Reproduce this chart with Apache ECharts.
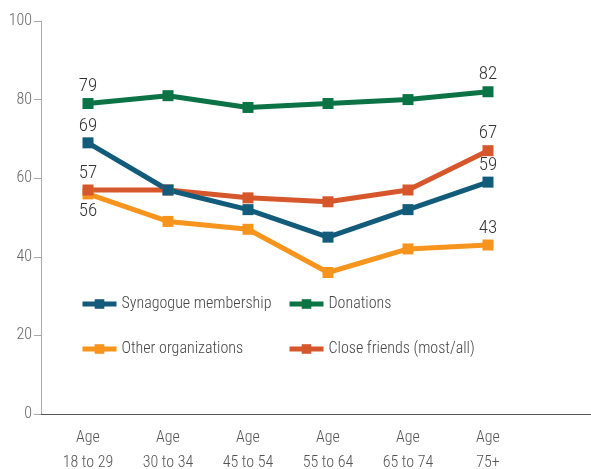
<!DOCTYPE html>
<html>
<head>
<meta charset="utf-8">
<script src="https://cdn.jsdelivr.net/npm/echarts@6/dist/echarts.min.js"></script>
<style>
	html, body { margin: 0; padding: 0; background: #fff; }
	#chart1 { width: 591px; height: 469px; }
</style>
</head>
<body>
<div id="chart1"></div>
<script>
var categories = ['18 to 29', '30 to 34', '45 to 54', '55 to 64', '65 to 74', '75+'];
var seriesNames = ['Synagogue membership', 'Donations', 'Other organizations', 'Close friends (most/all)'];
var synagogue = [69, 57, 52, 45, 52, 59];
var donations = [79, 81, 78, 79, 80, 82];
var otherOrgs = [56, 49, 47, 36, 42, 43];
var closeFriends = [57, 57, 55, 54, 57, 67];
var yTicks = [0, 20, 40, 60, 80, 100];

var FONT = "'Roboto Condensed', 'DejaVu Sans Condensed', sans-serif";

function pairs(arr){
	return arr.map(function(v, i){ return [i, v]; });
}

// only first and last point get a value label
function makeSeries(name, values, color, firstPos){
	var last = values.length - 1;
	return {
		name: name,
		type: 'line',
		data: pairs(values).map(function(d, i){
			var item = { value: d };
			if (i === 0 || i === last) {
				item.label = { show: true, position: i === 0 ? firstPos : 'top' };
			}
			return item;
		}),
		symbol: 'rect',
		symbolSize: 11,
		lineStyle: { color: color, width: 5 },
		itemStyle: { color: color },
		label: {
			show: false,
			distance: 2,
			color: '#333',
			fontFamily: FONT,
			fontWeight: 300,
			fontSize: 19,
			formatter: function(p){ return p.value[1]; }
		}
	};
}

var chart = echarts.init(document.getElementById('chart1'));
var option = {
	animation: false,
	grid: { left: 41, right: 0, top: 21, bottom: 55, outerBoundsMode: 'none' },
	xAxis: {
		type: 'value',
		min: -0.5875,
		max: 6.2875,
		splitLine: { show: false },
		axisLine: { show: true, onZero: false, lineStyle: { color: '#555', width: 1 } },
		axisTick: { show: false },
		axisLabel: {
			customValues: [0, 1, 2, 3, 4, 5],
			formatter: function(v){ return 'Age\n' + categories[Math.round(v)]; },
			color: '#555',
			fontFamily: FONT,
			fontWeight: 300,
			fontSize: 16,
			lineHeight: 25,
			margin: 11
		}
	},
	yAxis: {
		type: 'value',
		min: 0,
		max: 100,
		interval: 20,
		splitLine: { show: false },
		axisLine: { show: true, onZero: false, lineStyle: { color: '#aaa' } },
		axisTick: { show: true, length: 7, lineStyle: { color: '#aaa' } },
		axisLabel: {
			color: '#666',
			fontFamily: FONT,
			fontWeight: 300,
			fontSize: 16,
			margin: 9,
			formatter: function(v){ return yTicks.indexOf(v) >= 0 ? String(v) : ''; }
		}
	},
	legend: [
		{
			orient: 'vertical',
			left: 80,
			top: 296,
			padding: 0,
			itemWidth: 34,
			itemHeight: 12,
			itemGap: 29,
			lineStyle: { width: 5 },
			data: [seriesNames[0], seriesNames[2]],
			textStyle: { color: '#444', fontFamily: FONT, fontWeight: 300, fontSize: 16 }
		},
		{
			orient: 'vertical',
			left: 287,
			top: 296,
			padding: 0,
			itemWidth: 34,
			itemHeight: 12,
			itemGap: 29,
			lineStyle: { width: 5 },
			data: [seriesNames[1], seriesNames[3]],
			textStyle: { color: '#444', fontFamily: FONT, fontWeight: 300, fontSize: 16 }
		}
	],
	series: [
		makeSeries(seriesNames[2], otherOrgs, '#f7941d', 'bottom'),
		makeSeries(seriesNames[3], closeFriends, '#d6572b', 'top'),
		makeSeries(seriesNames[0], synagogue, '#135b7a', 'top'),
		makeSeries(seriesNames[1], donations, '#0b7345', 'top')
	]
};
chart.setOption(option);
</script>
</body>
</html>
